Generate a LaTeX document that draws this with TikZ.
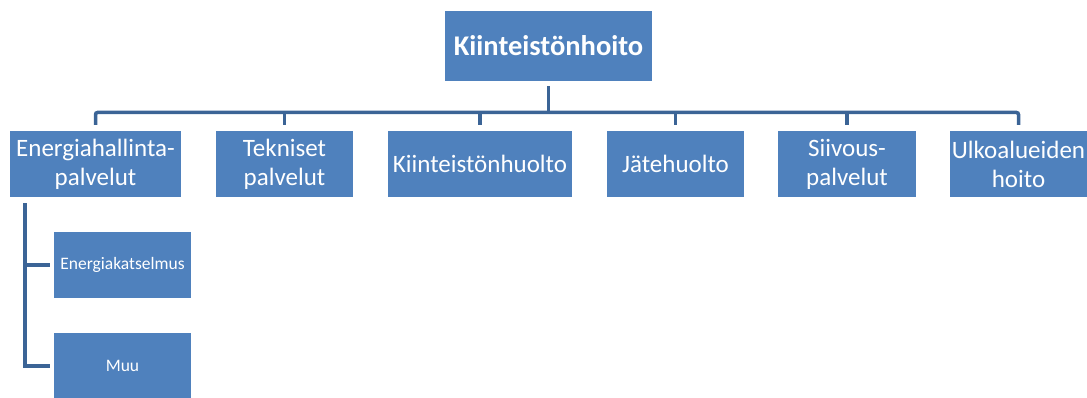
\documentclass[tikz,border=0pt]{standalone}
\usepackage{fontspec}
\setmainfont{Carlito}
\usepackage{tikz}

\definecolor{boxblue}{HTML}{4F81BD}
\definecolor{lineblue}{HTML}{3B6496}

\tikzset{
  orgbox/.style={fill=boxblue, text=white, inner sep=0pt, align=center,
    minimum height=66pt, font=\fontsize{25}{29}\selectfont},
  topbox/.style={orgbox, minimum width=207pt, minimum height=70pt,
    font=\fontsize{28.5}{33}\selectfont\bfseries},
  subbox/.style={orgbox, minimum width=137pt, font=\fontsize{17.5}{21}\selectfont},
  conn/.style={draw=lineblue, line width=3.5pt}
}

\begin{document}
\begin{tikzpicture}[x=1pt, y=-1pt]
    \useasboundingbox (0, 0) rectangle (1087, 398);

    % top level
    \node [topbox] (top) at (548.5, 46) {Kiinteistönhoito};

    % second level
    \node [orgbox, minimum width=171pt] (ener) at (95.5, 164) {Energiahallinta-\\palvelut};
    \node [orgbox, minimum width=137pt] (tekn) at (284.5, 164) {Tekniset\\palvelut};
    \node [orgbox, minimum width=184pt] (huolto) at (480, 164) {Kiinteistönhuolto};
    \node [orgbox, minimum width=137pt] (jate) at (675.5, 164) {Jätehuolto};
    \node [orgbox, minimum width=138pt] (siivous) at (847, 164) {Siivous-\\palvelut};
    \node [orgbox, minimum width=137pt] (ulko) at (1018.5, 164) {Ulkoalueiden\\hoito};

    % under Energiahallintapalvelut
    \node [subbox] (katselmus) at (122.5, 265) {Energiakatselmus};
    \node [subbox] (muu) at (122.5, 366) {Muu};

    \coordinate (bus) at (548.5, 112.5);
    \coordinate (spine) at (25, 0);
    \coordinate (spinetop) at ([yshift=-6pt]ener.south);

    \draw [conn] ([yshift=-5pt]top.south) -- (bus);
    \draw [conn, rounded corners=2pt] ([yshift=6pt]ener.north) |- (bus) -| ([yshift=6pt]ulko.north);
    \foreach \n in {tekn, huolto, jate, siivous}
      \draw [conn] ([yshift=6pt]\n.north) -- (\n.north |- bus);

    \draw [conn] (spine |- spinetop) |- ([xshift=-4pt]muu.west);
    \draw [conn] (spine |- katselmus.west) -- ([xshift=-4pt]katselmus.west);
\end{tikzpicture}
\end{document}
